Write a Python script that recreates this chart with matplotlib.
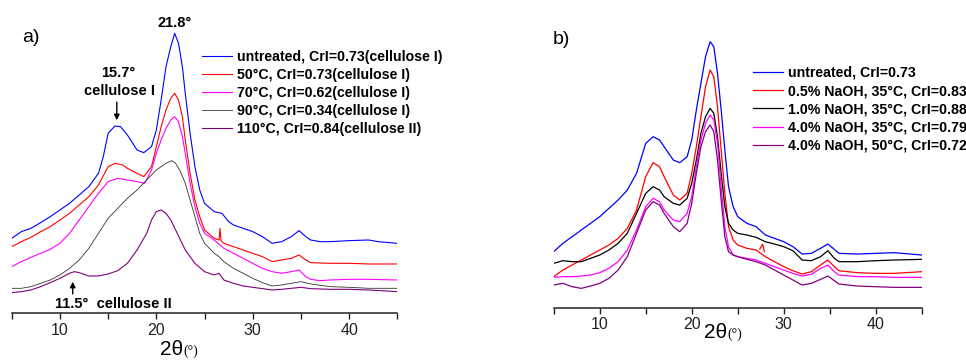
import matplotlib.pyplot as plt

plt.rcParams['font.family'] = ['Liberation Sans', 'DejaVu Sans']

# --------DATA (a.u.)--------
# panel a) - hydrothermal treatment
tt_a = [5, 6, 7, 8, 9, 10, 11, 12, 13, 14, 14.5, 15, 15.7, 16.3, 17, 18, 18.7, 19.5, 20, 20.5,
        21, 21.5, 21.9, 22.3, 22.7, 23, 23.5, 24, 24.5, 25, 26, 26.8, 27.5, 28, 29, 30, 31, 32,
        33, 34, 34.8, 35.5, 36, 37, 38, 40, 42, 43, 45]
untreated_a = [225, 245, 255, 272, 290, 310, 330, 355, 380, 420, 470, 540, 562, 560, 535, 490, 482, 500, 550, 640,
               740, 800, 840, 810, 740, 660, 540, 440, 370, 330, 305, 300, 275, 265, 255, 245, 230, 210,
               215, 230, 248, 230, 220, 215, 215, 218, 220, 215, 210]

tt_red_a = [5, 6, 7, 8, 9, 10, 11, 12, 13, 14, 15, 15.7, 16.5, 17, 18, 18.7, 19.5, 20, 20.5, 21, 21.5,
            21.9, 22.3, 22.7, 23, 23.5, 24, 24.5, 25, 26, 26.5, 26.6, 26.7, 27, 28, 29, 30, 31, 32, 33,
            34, 34.8, 35.5, 36, 38, 40, 42, 45]
t50_a = [200, 215, 228, 245, 260, 280, 300, 325, 350, 385, 440, 450, 445, 435, 420, 410, 440, 500, 560, 610, 645,
         660, 640, 590, 520, 420, 340, 290, 250, 225, 220, 255, 218, 210, 200, 190, 180, 170, 155, 160,
         165, 175, 160, 152, 150, 150, 148, 148]

tt_mag_a = [5, 6, 7, 8, 9, 10, 11, 12, 13, 14, 15, 16, 17, 18, 18.8, 19.5, 20, 20.5, 21, 21.5, 21.9,
            22.3, 22.7, 23, 23.5, 24, 24.5, 25, 26, 27, 28, 29, 30, 31, 32, 33, 34, 34.8, 35.5, 36, 37,
            38, 40, 42, 45]
t70_a = [140, 155, 168, 180, 192, 210, 240, 280, 320, 360, 395, 405, 400, 395, 390, 430, 480, 520, 555, 580, 590,
         575, 530, 480, 390, 320, 270, 240, 220, 195, 180, 165, 150, 135, 125, 120, 125, 130, 110, 102, 98,
         100, 102, 102, 100]

tt_blk_a = [5, 6, 7, 8, 9, 10, 11, 12, 13, 14, 15, 16, 17, 18, 19, 20, 21, 21.6, 22, 22.5, 23, 23.5,
            24, 24.5, 25, 26, 26.5, 27, 28, 29, 30, 31, 32, 33, 34, 35, 36, 38, 40, 42, 45]
t90_a = [75, 75, 80, 90, 100, 115, 135, 160, 195, 240, 285, 315, 345, 370, 400, 430, 450, 458, 450, 425, 390, 340,
         290, 240, 210, 180, 170, 155, 135, 120, 105, 92, 82, 85, 90, 95, 88, 80, 78, 75, 75]

tt_pur_a = [5, 6, 7, 8, 9, 10, 11, 11.5, 12, 13, 14, 15, 16, 17, 18, 19, 19.5, 20, 20.5, 21, 21.5, 22,
            22.5, 23, 24, 25, 26, 26.5, 27, 28, 29, 30, 31, 32, 33, 34, 35, 36, 38, 40, 42, 45]
t110_a = [62, 65, 70, 80, 92, 105, 120, 125, 122, 112, 112, 118, 128, 150, 190, 240, 280, 305, 310, 300, 280, 250,
          220, 190, 150, 125, 115, 120, 100, 90, 82, 78, 74, 70, 72, 75, 78, 74, 72, 72, 70, 65]

labels_a = ['untreated, CrI=0.73(cellulose I)', '50°C, CrI=0.73(cellulose I)',
            '70°C, CrI=0.62(cellulose I)', '90°C, CrI=0.34(cellulose I)',
            '110°C, CrI=0.84(cellulose II)']

# panel b) - NaOH treatment
tt_b = [5, 6, 7, 8, 9, 10, 11, 12, 13, 14, 15, 15.8, 16.5, 17, 18, 18.7, 19.5, 20, 20.5, 21, 21.5, 22,
        22.4, 22.8, 23.2, 23.6, 24, 24.5, 25, 26, 27, 28, 29, 30, 31, 32, 33, 34, 34.8, 35.5, 36, 38,
        40, 42, 45]
untreated_b = [160, 185, 205, 225, 245, 265, 290, 315, 345, 395, 485, 505, 495, 475, 435, 427, 445, 495, 585, 665, 745, 790,
               775, 695, 585, 465, 355, 295, 265, 245, 235, 210, 200, 190, 175, 153, 155, 170, 183, 167, 155, 153,
               155, 157, 150]
naoh05_35 = [85, 105, 120, 135, 150, 165, 180, 200, 230, 285, 385, 427, 415, 385, 330, 315, 335, 395, 475, 565, 655, 705,
             685, 595, 465, 335, 235, 195, 180, 170, 165, 145, 130, 115, 103, 93, 100, 120, 135, 115, 103, 97,
             95, 95, 100]
naoh10_35 = [125, 133, 130, 130, 140, 150, 165, 185, 215, 275, 335, 355, 345, 325, 305, 300, 320, 365, 435, 515, 565, 590,
             575, 505, 395, 295, 245, 225, 215, 210, 203, 190, 183, 175, 163, 135, 133, 145, 163, 140, 130, 130,
             133, 135, 137]
naoh40_35 = [83, 85, 85, 87, 90, 97, 110, 130, 165, 225, 295, 320, 310, 285, 255, 250, 275, 325, 415, 495, 545, 570,
             555, 485, 355, 235, 175, 150, 145, 140, 135, 125, 115, 105, 95, 87, 92, 110, 120, 100, 90, 85,
             85, 83, 83]
naoh40_50 = [60, 65, 55, 50, 57, 65, 80, 105, 145, 215, 285, 310, 300, 275, 235, 220, 245, 305, 395, 475, 520, 540,
             520, 435, 315, 205, 160, 150, 145, 137, 130, 120, 105, 90, 75, 60, 65, 77, 87, 73, 63, 57,
             55, 53, 53]
tt_spike_b = [27.4, 27.7, 27.9]
spike_b = [168, 182, 160]

labels_b = ['untreated, CrI=0.73', '0.5% NaOH, 35°C, CrI=0.83', '1.0% NaOH, 35°C, CrI=0.88',
            '4.0% NaOH, 35°C, CrI=0.79', '4.0% NaOH, 50°C, CrI=0.72']

colors = ['#0000ff', '#ff0000', '#ff00ff', '#333333', '#800080']
colors_b = ['#0000ff', '#ff0000', '#000000', '#ff00ff', '#800080']
ticks = [10, 20, 30, 40]

fig = plt.figure(figsize=(9.66, 3.6), dpi=100)
ax_a = fig.add_axes([0.0121, 0.1297, 0.3993, 0.8703])
ax_b = fig.add_axes([0.5732, 0.1453, 0.381, 0.8547])

# --------PANEL A--------
ax_a.plot(tt_a, untreated_a, '-', c=colors[0], lw=0.8)
ax_a.plot(tt_red_a, t50_a, '-', c=colors[1], lw=0.8)
ax_a.plot(tt_mag_a, t70_a, '-', c=colors[2], lw=0.8)
ax_a.plot(tt_blk_a, t90_a, '-', c=colors[3], lw=0.6)
ax_a.plot(tt_pur_a, t110_a, '-', c=colors[4], lw=0.8)
ax_a.set_ylim(0, 940)

ax_a.text(21.9, 871, '21.8°', ha='center', va='center', fontsize=10.5, fontweight='bold')
ax_a.text(16.1, 720, '15.7°', ha='center', va='center', fontsize=10.5, fontweight='bold')
ax_a.text(16.2, 668, 'cellulose I', ha='center', va='center', fontsize=10.5, fontweight='bold')
ax_a.annotate('', xy=(15.9, 571), xytext=(15.9, 642),
              arrowprops=dict(arrowstyle='-|>', color='k', lw=1, mutation_scale=8))
ax_a.text(9.5, 28, '11.5°  cellulose II', ha='left', va='center', fontsize=10.5, fontweight='bold')
ax_a.annotate('', xy=(11.33, 103), xytext=(11.33, 50),
              arrowprops=dict(arrowstyle='-|>', color='k', lw=1, mutation_scale=8))
ax_a.legend(labels_a, loc='upper left', bbox_to_anchor=(0.209, 0.861), bbox_transform=fig.transFigure,
            frameon=False, prop={'weight': 'bold', 'size': 10.2}, handlelength=2.15, handletextpad=0.36,
            labelspacing=0.28, borderpad=0, borderaxespad=0)
fig.text(0.023, 0.897, 'a)', fontsize=14, va='center', ha='left')

# --------PANEL B--------
ax_b.plot(tt_b, untreated_b, '-', c=colors_b[0], lw=0.9)
ax_b.plot(tt_b, naoh05_35, '-', c=colors_b[1], lw=0.9)
ax_b.plot(tt_b, naoh10_35, '-', c=colors_b[2], lw=0.9)
ax_b.plot(tt_b, naoh40_35, '-', c=colors_b[3], lw=0.9)
ax_b.plot(tt_b, naoh40_50, '-', c=colors_b[4], lw=0.9)
ax_b.plot(tt_spike_b, spike_b, '-', c=colors_b[1], lw=0.9)
ax_b.set_ylim(-8, 915)
ax_b.legend(labels_b, loc='upper left', bbox_to_anchor=(0.780, 0.817), bbox_transform=fig.transFigure,
            frameon=False, prop={'weight': 'bold', 'size': 10.2}, handlelength=2.1, handletextpad=0.36,
            labelspacing=0.3, borderpad=0, borderaxespad=0)
fig.text(0.572, 0.889, 'b)', fontsize=14, va='center', ha='left')

for ax in (ax_a, ax_b):
    ax.set_xlim(5, 45)
    ax.set_xticks(ticks)
    ax.set_xticks([5, 15, 25, 35, 45], minor=True)
    ax.set_yticks([])
    for s in ('top', 'left', 'right'):
        ax.spines[s].set_visible(False)
    ax.spines['bottom'].set_linewidth(1.1)
    ax.spines['bottom'].set_color('#222222')
    ax.tick_params(axis='x', which='both', direction='out', length=4, width=1, pad=3,
                   labelsize=11.5, colors='#222222')
    ax.patch.set_alpha(0)

# x labels: "2θ" plus small "(°)"
fig.text(0.190, 0.028, '2θ', fontsize=15, ha='right', va='center')
fig.text(0.190, 0.024, '(°)', fontsize=10, ha='left', va='center', family='Liberation Serif')
fig.text(0.753, 0.075, '2θ', fontsize=15, ha='right', va='center')
fig.text(0.753, 0.071, '(°)', fontsize=10, ha='left', va='center', family='Liberation Serif')

fig.savefig('out.png', dpi=100)
